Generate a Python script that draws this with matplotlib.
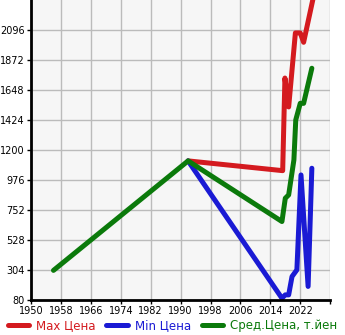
import matplotlib.pyplot as plt

red = '#d41a1f'
blue = '#1a1ad4'
green = '#0b7a0b'

max_years = [1992, 2017.3, 2017.9, 2018.9, 2020.7, 2022, 2022.9, 2025.5]
max_price = [1118, 1045, 1737, 1521, 2074, 2074, 2004, 2340]

min_years = [1992, 2017.1, 2018, 2018.9, 2019.8, 2021.1, 2022.2, 2024.1, 2025.1]
min_price = [1118, 92, 117, 117, 254, 304, 1013, 180, 1063]

avg_years = [1956, 1992, 2017.1, 2018, 2018.9, 2020.3, 2020.8, 2022, 2022.9, 2025.1]
avg_price = [300, 1118, 665, 839, 864, 1125, 1424, 1548, 1548, 1810]

xticks = [1950, 1958, 1966, 1974, 1982, 1990, 1998, 2006, 2014, 2022, 2030]
xlabels = ['1950', '1958', '1966', '1974', '1982', '1990', '1998', '2006', '2014', '2022', '']
yticks = [80, 304, 528, 752, 976, 1200, 1424, 1648, 1872, 2096]

fig = plt.figure(figsize=(3.45, 3.35), dpi=100)
ax = fig.add_axes([0.09, 0.105, 0.867, 0.895])
ax.set_facecolor('#f6f6f6')

lw = 3.6
ax.plot(max_years, max_price, color=red, lw=lw, solid_capstyle='round', label='Max Цена')
ax.plot(min_years, min_price, color=blue, lw=lw, solid_capstyle='round', label='Min Цена')
ax.plot(avg_years, avg_price, color=green, lw=lw, solid_capstyle='round', label='Сред.Цена, т.йен')

ax.set_xlim(1950, 2030)
ax.set_ylim(80, 2320)
ax.set_xticks(xticks)
ax.set_xticklabels(xlabels)
ax.set_yticks(yticks)
ax.grid(True, color='#bbbbbb', lw=1)
ax.set_axisbelow(True)
ax.tick_params(labelsize=7, length=3, width=1, pad=1.5)
for s in ['top', 'right']:
    ax.spines[s].set_visible(False)
for s in ['left', 'bottom']:
    ax.spines[s].set_linewidth(2)

fig.legend(loc='lower center', bbox_to_anchor=(0.5, -0.01), ncol=3, frameon=False,
           fontsize=8.5, handlelength=1.8, handletextpad=0.6, columnspacing=0.9,
           labelcolor='linecolor', borderaxespad=0.1)

fig.savefig('out.png', dpi=100)
